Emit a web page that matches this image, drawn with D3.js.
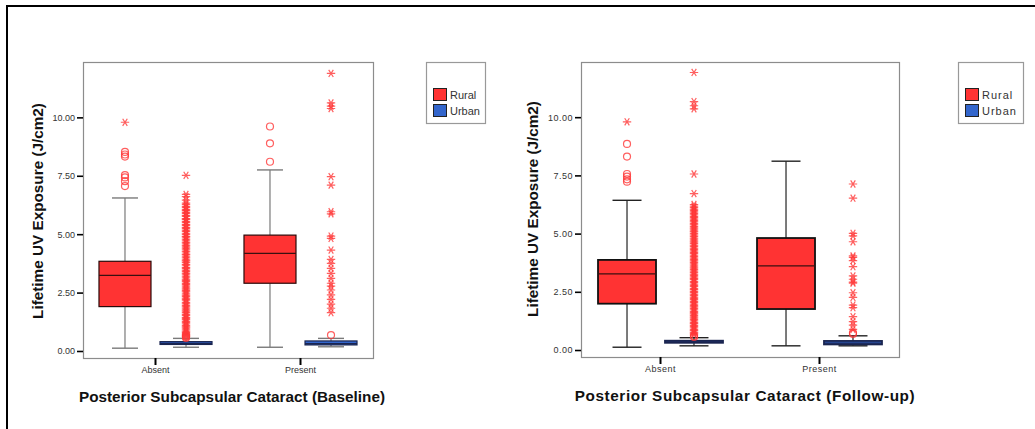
<!DOCTYPE html>
<html>
<head>
<meta charset="utf-8">
<script src="https://cdn.jsdelivr.net/npm/d3@7"></script>
<style>
  html, body { margin: 0; padding: 0; background: #fff; }
  svg { display: block; font-family: "Liberation Sans", Arial, sans-serif; }
</style>
</head>
<body>
<svg id="chart" width="1035" height="429"></svg>
<script>
// ---- data ---------------------------------------------------------------
const groups = ["Absent", "Present"];
const series = ["Rural", "Urban"];
const yTicks = [0, 2.5, 5, 7.5, 10];
const titles = ["Posterior Subcapsular Cataract (Baseline)", "Posterior Subcapsular Cataract (Follow-up)"];
const yTitle = "Lifetime UV Exposure (J/cm2)";

// box statistics: [lower whisker, Q1, median, Q3, upper whisker]
const baselineRuralAbsent  = [0.12, 1.90, 3.24, 3.84, 6.55];
const baselineUrbanAbsent  = [0.16, 0.28, 0.33, 0.40, 0.54];
const baselineRuralPresent = [0.16, 2.90, 4.18, 4.96, 7.75];
const baselineUrbanPresent = [0.18, 0.26, 0.31, 0.43, 0.54];
const followRuralAbsent    = [0.12, 1.99, 3.27, 3.87, 6.43];
const followUrbanAbsent    = [0.18, 0.31, 0.35, 0.40, 0.53];
const followRuralPresent   = [0.18, 1.76, 3.61, 4.81, 8.11];
const followUrbanPresent   = [0.18, 0.24, 0.30, 0.39, 0.61];

// outliers (circles) and extreme values (stars)
const baselineRuralAbsentOut  = [8.52, 8.41, 8.32, 7.53, 7.43, 7.27, 7.06];
const baselineRuralAbsentExt  = [9.79];
const baselineUrbanAbsentOut  = [0.56, 0.60, 0.64, 0.70];
const baselineUrbanAbsentExt  = [0.62, 0.67, 0.73, 0.80, 0.85, 0.91, 0.98, 1.03, 1.09, 1.16, 1.22, 1.27, 1.34, 1.40,
  1.44, 1.52, 1.57, 1.64, 1.71, 1.76, 1.83, 1.89, 1.94, 2.02, 2.07, 2.15, 2.21, 2.26, 2.34, 2.39, 2.45, 2.53,
  2.58, 2.65, 2.70, 2.78, 2.84, 2.89, 2.97, 3.02, 3.08, 3.16, 3.21, 3.29, 3.33, 3.41, 3.46, 3.54, 3.58, 3.67,
  3.71, 3.79, 3.86, 3.90, 3.98, 4.03, 4.11, 4.15, 4.24, 4.28, 4.36, 4.41, 4.49, 4.53, 4.62, 4.66, 4.74, 4.79,
  4.87, 4.91, 4.99, 5.04, 5.12, 5.17, 5.25, 5.29, 5.38, 5.42, 5.50, 5.55, 5.63, 5.67, 5.76, 5.80, 5.88, 5.93,
  6.01, 6.05, 6.14, 6.19, 6.27, 6.33, 6.46, 6.61, 6.70, 7.52];
const baselineRuralPresentOut = [8.10, 8.89, 9.61];
const baselineRuralPresentExt = [];
const baselineUrbanPresentOut = [0.68];
const baselineUrbanPresentExt = [11.88, 10.62, 10.48, 10.38, 7.46, 7.10, 5.96, 5.87, 4.92, 4.82, 4.32, 3.92,
  3.75, 3.54, 3.32, 3.11, 2.90, 2.78, 2.61, 2.40, 2.21, 2.01, 1.83, 1.64];

const followRuralAbsentOut  = [8.85, 8.31, 7.56, 7.45, 7.33, 7.23];
const followRuralAbsentExt  = [9.80];
const followUrbanAbsentOut  = [0.56, 0.60];
const followUrbanAbsentExt  = [0.65, 0.71, 0.76, 0.83, 0.88, 0.95, 1.01, 1.06, 1.13, 1.18, 1.25, 1.31, 1.37, 1.42,
  1.49, 1.55, 1.61, 1.66, 1.73, 1.79, 1.85, 1.91, 1.97, 2.04, 2.09, 2.16, 2.22, 2.27, 2.35, 2.40, 2.47, 2.52,
  2.59, 2.64, 2.72, 2.77, 2.83, 2.90, 2.95, 3.03, 3.08, 3.14, 3.21, 3.26, 3.33, 3.39, 3.45, 3.52, 3.57, 3.64,
  3.70, 3.76, 3.83, 3.88, 3.95, 4.01, 4.07, 4.14, 4.19, 4.26, 4.32, 4.38, 4.45, 4.50, 4.57, 4.63, 4.69, 4.76,
  4.81, 4.88, 4.94, 5.00, 5.07, 5.12, 5.19, 5.25, 5.31, 5.38, 5.43, 5.50, 5.56, 5.62, 5.69, 5.74, 5.81, 5.87,
  5.93, 6.00, 6.05, 6.12, 6.18, 6.25, 6.72, 7.56, 10.36, 10.49, 10.67, 11.92];
const followRuralPresentOut = [];
const followRuralPresentExt = [];
const followUrbanPresentOut = [0.74, 0.69];
const followUrbanPresentExt = [7.13, 6.52, 5.01, 4.90, 4.65, 4.04, 3.98, 3.84, 3.58, 3.18, 3.04, 2.92, 2.87,
  2.46, 2.26, 1.93, 1.82, 1.43, 1.22, 1.07, 0.89];

// ---- assemble per-panel records ----------------------------------------
function rec(group, s, stats, out, ext) {
  return { group, series: s, lo: stats[0], q1: stats[1], med: stats[2], q3: stats[3], hi: stats[4], out, ext };
}
const baseline = [
  rec("Absent", "Rural", baselineRuralAbsent, baselineRuralAbsentOut, baselineRuralAbsentExt),
  rec("Absent", "Urban", baselineUrbanAbsent, baselineUrbanAbsentOut, baselineUrbanAbsentExt),
  rec("Present", "Rural", baselineRuralPresent, baselineRuralPresentOut, baselineRuralPresentExt),
  rec("Present", "Urban", baselineUrbanPresent, baselineUrbanPresentOut, baselineUrbanPresentExt)
];
const followUp = [
  rec("Absent", "Rural", followRuralAbsent, followRuralAbsentOut, followRuralAbsentExt),
  rec("Absent", "Urban", followUrbanAbsent, followUrbanAbsentOut, followUrbanAbsentExt),
  rec("Present", "Rural", followRuralPresent, followRuralPresentOut, followRuralPresentExt),
  rec("Present", "Urban", followUrbanPresent, followUrbanPresentOut, followUrbanPresentExt)
];

const fillColor = d3.scaleOrdinal().domain(series).range(["#ff3333", "#3366cc"]);
const markColor = "rgba(255,55,55,0.8)";

const svg = d3.select("#chart");

// outer frame (top and left edges)
svg.append("path")
  .attr("d", "M7,429 L7,6 L1035,6")
  .attr("fill", "none").attr("stroke", "#000").attr("stroke-width", 2);

// star glyph used for extreme values
const starPath = (r) => {
  const a = r * 0.55, b = r * 0.85;
  return `M${-r},0L${r},0M${-a},${-b}L${a},${b}M${-a},${b}L${a},${-b}`;
};

function drawPanel(cfg) {
  const { data, x0, x1, y0, y1, title, whiskerColor, boxStroke, boxStrokeWidth,
          pi, po, yTitleX, yTitleY, titleX, titleY, legendX, legendW, spacing, titleSpacing } = cfg;
  const g = svg.append("g");

  const y = d3.scaleLinear().domain([-0.30, 12.37]).range([y1, y0]);
  const xg = d3.scaleBand().domain(groups).range([x0, x1]).paddingInner(0).paddingOuter(0);
  const xs = d3.scaleBand().domain(series).range([0, xg.bandwidth()]).paddingInner(pi).paddingOuter(po);
  const bw = xs.bandwidth();
  const cx = d => xg(d.group) + xs(d.series) + bw / 2;

  // plot frame
  g.append("rect").attr("x", x0 + 0.5).attr("y", y0 + 0.5)
    .attr("width", x1 - x0).attr("height", y1 - y0)
    .attr("fill", "none").attr("stroke", "#8c8c8c").attr("stroke-width", 1.2);

  // y axis
  const ya = g.append("g").attr("transform", `translate(${x0},0)`)
    .call(d3.axisLeft(y).tickValues(yTicks).tickFormat(d3.format(".2f")).tickSize(6).tickPadding(2));
  ya.select(".domain").remove();
  ya.selectAll(".tick line").attr("stroke", "#000").attr("stroke-width", 1.6);
  ya.selectAll(".tick text").attr("font-size", 9).attr("fill", "#333")
    .attr("font-family", "Liberation Sans, Arial, sans-serif").attr("letter-spacing", spacing);

  // x axis
  const xa = g.append("g").attr("transform", `translate(0,${y1})`)
    .call(d3.axisBottom(xg).tickSize(7).tickPadding(2));
  xa.select(".domain").remove();
  xa.selectAll(".tick line").attr("stroke", "#000").attr("stroke-width", 2);
  xa.selectAll(".tick text").attr("font-size", 9).attr("fill", "#333")
    .attr("font-family", "Liberation Sans, Arial, sans-serif").attr("letter-spacing", spacing);

  const boxes = g.selectAll("g.box").data(data).join("g").attr("class", "box");

  // whiskers
  boxes.append("line")
    .attr("x1", cx).attr("x2", cx).attr("y1", d => y(d.lo)).attr("y2", d => y(d.q1))
    .attr("stroke", whiskerColor).attr("stroke-width", 1.2);
  boxes.append("line")
    .attr("x1", cx).attr("x2", cx).attr("y1", d => y(d.q3)).attr("y2", d => y(d.hi))
    .attr("stroke", whiskerColor).attr("stroke-width", 1.2);
  boxes.append("line")
    .attr("x1", d => cx(d) - bw / 4).attr("x2", d => cx(d) + bw / 4)
    .attr("y1", d => y(d.lo)).attr("y2", d => y(d.lo))
    .attr("stroke", whiskerColor).attr("stroke-width", 1.4);
  boxes.append("line")
    .attr("x1", d => cx(d) - bw / 4).attr("x2", d => cx(d) + bw / 4)
    .attr("y1", d => y(d.hi)).attr("y2", d => y(d.hi))
    .attr("stroke", whiskerColor).attr("stroke-width", 1.4);

  // boxes
  boxes.append("rect")
    .attr("x", d => cx(d) - bw / 2).attr("width", bw)
    .attr("y", d => y(d.q3)).attr("height", d => y(d.q1) - y(d.q3))
    .attr("fill", d => fillColor(d.series))
    .attr("stroke", d => d.series === "Urban" ? "#1a2550" : boxStroke)
    .attr("stroke-width", boxStrokeWidth);
  boxes.append("line")
    .attr("x1", d => cx(d) - bw / 2).attr("x2", d => cx(d) + bw / 2)
    .attr("y1", d => y(d.med)).attr("y2", d => y(d.med))
    .attr("stroke", d => d.series === "Urban" ? "#1a2550" : "#3a1010").attr("stroke-width", 1.3);

  // outliers
  boxes.each(function (d) {
    const s = d3.select(this);
    s.selectAll("circle.out").data(d.out).join("circle").attr("class", "out")
      .attr("cx", cx(d)).attr("cy", v => y(v)).attr("r", 3.5)
      .attr("fill", "none").attr("stroke", markColor).attr("stroke-width", 1.2);
    s.selectAll("path.ext").data(d.ext).join("path").attr("class", "ext")
      .attr("transform", v => `translate(${cx(d)},${y(v)})`)
      .attr("d", starPath(4.2))
      .attr("fill", "none").attr("stroke", markColor).attr("stroke-width", 1.2);
  });

  // axis titles
  g.append("text")
    .attr("transform", `translate(${yTitleX},${yTitleY}) rotate(-90)`)
    .attr("text-anchor", "middle").attr("font-size", 15.3).attr("font-weight", "bold")
    .attr("fill", "#111").text(yTitle);
  g.append("text")
    .attr("x", titleX).attr("y", titleY)
    .attr("text-anchor", "middle").attr("font-size", 15.3).attr("font-weight", "bold")
    .attr("fill", "#111").attr("letter-spacing", titleSpacing).text(title);

  // legend
  const lg = g.append("g").attr("transform", `translate(${legendX},62)`);
  lg.append("rect").attr("x", 0.5).attr("y", 0.5).attr("width", legendW).attr("height", 61)
    .attr("fill", "#fff").attr("stroke", "#999").attr("stroke-width", 1.2);
  series.forEach((s, i) => {
    lg.append("rect").attr("x", 7.5).attr("y", 26.5 + i * 16).attr("width", 13).attr("height", 12)
      .attr("fill", fillColor(s)).attr("stroke", "#222").attr("stroke-width", 1);
    lg.append("text").attr("x", 24).attr("y", 37 + i * 16)
      .attr("font-size", 11).attr("fill", "#333").attr("letter-spacing", spacing === 0 ? 0 : 1)
      .text(s);
  });
}

drawPanel({
  data: baseline, x0: 83, x1: 373, y0: 62, y1: 358, title: titles[0],
  whiskerColor: "#7a7a7a", boxStroke: "#2a0a0a", boxStrokeWidth: 1.2,
  pi: 0.148, po: 0.262, yTitleX: 43, yTitleY: 211, titleX: 232, titleY: 402,
  legendX: 426, legendW: 59, spacing: 0, titleSpacing: 0
});
drawPanel({
  data: followUp, x0: 581, x1: 899, y0: 62, y1: 357, title: titles[1],
  whiskerColor: "#222", boxStroke: "#111", boxStrokeWidth: 1.8,
  pi: 0.134, po: 0.254, yTitleX: 538, yTitleY: 209, titleX: 745, titleY: 401,
  legendX: 958, legendW: 65, spacing: 0.5, titleSpacing: 0.6
});
</script>
</body>
</html>
